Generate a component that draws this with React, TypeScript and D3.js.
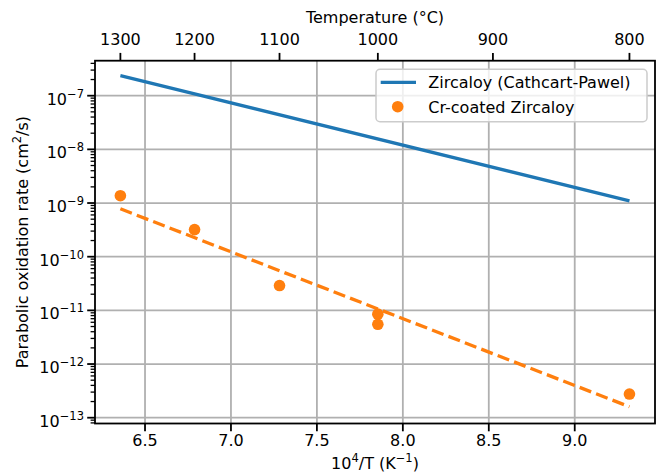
import React from 'react';
import * as d3 from 'd3';

// measured points (Cr-coated), temperature in degC and rate in cm^2/s
const coatedTempC = [1300, 1200, 1100, 1000, 1000, 800];
const coatedRate = [1.37e-9, 3.2e-10, 2.9e-11, 8.5e-12, 5.5e-12, 2.76e-13];

// Cathcart-Pawel correlation, read at the two ends
const cpTempC = [1300, 800];
const cpRate = [2.36e-7, 1.1e-9];

// dashed fit through the coated data
const fitTempC = [1300, 800];
const fitRate = [7.8e-10, 1.6e-13];

const xTicks = [6.5, 7.0, 7.5, 8.0, 8.5, 9.0];
const topTicksC = [1300, 1200, 1100, 1000, 900, 800];
const yDecades = [-13, -12, -11, -10, -9, -8, -7];

const xLim: [number, number] = [6.209, 9.467];
const yLim: [number, number] = [Math.pow(10, -13.108), Math.pow(10, -6.348)];

const invT = (c: number) => 10000 / (c + 273.15);

const App: React.FC = () => {
    const width = 656, height = 474;
    const left = 95, right = 655, top = 60.7, bottom = 423.5;
    const font = 'DejaVu Sans, sans-serif';
    const fs = 16;

    const x = d3.scaleLinear().domain(xLim).range([left, right]);
    const y = d3.scaleLog().domain(yLim).range([bottom, top]);

    const line = d3.line<[number, number]>()
        .x(d => x(d[0]))
        .y(d => y(d[1]));

    const cpData = cpTempC.map((t, i) => [invT(t), cpRate[i]] as [number, number]);
    const fitData = fitTempC.map((t, i) => [invT(t), fitRate[i]] as [number, number]);
    const pts = coatedTempC.map((t, i) => [invT(t), coatedRate[i]] as [number, number]);

    const minor: number[] = [];
    for (let e = -14; e <= -6; e++) {
        for (let m = 2; m <= 9; m++) {
            const v = m * Math.pow(10, e);
            if (v >= yLim[0] && v <= yLim[1]) minor.push(v);
        }
    }

    const grid = '#b0b0b0';

    return (
        <svg width={width} height={height} style={{ position: 'absolute', left: 0, top: 0 }}
            fontFamily={font} fontSize={fs} fill="#000">
            <rect x={0} y={0} width={width} height={height} fill="#fff" />

            {/* grid */}
            <g stroke={grid} strokeWidth={1.8}>
                {xTicks.map(t => <line key={'gx' + t} x1={x(t)} x2={x(t)} y1={top} y2={bottom} />)}
                {yDecades.map(e => <line key={'gy' + e} x1={left} x2={right} y1={y(Math.pow(10, e))} y2={y(Math.pow(10, e))} />)}
            </g>

            {/* series */}
            <path d={line(cpData) || ''} fill="none" stroke="#1f77b4" strokeWidth={3.3} />
            <path d={line(fitData) || ''} fill="none" stroke="#ff7f0e" strokeWidth={3.3} strokeDasharray="12.3,5.3" />
            <g fill="#ff7f0e">
                {pts.map((d, i) => <circle key={i} cx={x(d[0])} cy={y(d[1])} r={5.8} />)}
            </g>

            {/* frame */}
            <rect x={left} y={top} width={right - left} height={bottom - top} fill="none" stroke="#000" strokeWidth={1.8} />

            {/* bottom axis */}
            <g stroke="#000" strokeWidth={1.8}>
                {xTicks.map(t => <line key={'bt' + t} x1={x(t)} x2={x(t)} y1={bottom} y2={bottom + 7.8} />)}
            </g>
            {xTicks.map(t => (
                <text key={'bl' + t} x={x(t)} y={bottom + 22.5} textAnchor="middle">{t.toFixed(1)}</text>
            ))}
            <text x={(left + right) / 2} y={469} textAnchor="middle">
                <tspan>10</tspan>
                <tspan dy={-7} fontSize={11.5}>4</tspan>
                <tspan dy={7}>/T (K</tspan>
                <tspan dy={-7} fontSize={11.5}>−1</tspan>
                <tspan dy={7}>)</tspan>
            </text>

            {/* top axis (temperature) */}
            <g stroke="#000" strokeWidth={1.8}>
                {topTicksC.map(t => <line key={'tt' + t} x1={x(invT(t))} x2={x(invT(t))} y1={top} y2={top - 7.8} />)}
            </g>
            {topTicksC.map(t => (
                <text key={'tl' + t} x={x(invT(t))} y={45} textAnchor="middle">{t}</text>
            ))}
            <text x={(left + right) / 2} y={23} textAnchor="middle">Temperature (°C)</text>

            {/* left axis */}
            <g stroke="#000">
                {yDecades.map(e => (
                    <line key={'yt' + e} x1={left} x2={left - 7.8} y1={y(Math.pow(10, e))} y2={y(Math.pow(10, e))} strokeWidth={1.8} />
                ))}
                {minor.map((v, i) => (
                    <line key={'ym' + i} x1={left} x2={left - 4.4} y1={y(v)} y2={y(v)} strokeWidth={1.3} />
                ))}
            </g>
            {yDecades.map(e => (
                <text key={'yl' + e} x={84} y={y(Math.pow(10, e)) + 9} textAnchor="end">
                    <tspan>10</tspan>
                    <tspan dy={-7} fontSize={11.5}>{'−' + Math.abs(e)}</tspan>
                </text>
            ))}
            <text transform={`translate(28,${(top + bottom) / 2}) rotate(-90)`} textAnchor="middle">
                <tspan>Parabolic oxidation rate (cm</tspan>
                <tspan dy={-7} fontSize={11.5}>2</tspan>
                <tspan dy={7}>/s)</tspan>
            </text>

            {/* legend */}
            <g>
                <rect x={376} y={69.3} width={271} height={52.4} rx={4} fill="#fff" fillOpacity={0.8} stroke="#cccccc" strokeWidth={1.5} />
                <line x1={380.7} x2={416} y1={82.3} y2={82.3} stroke="#1f77b4" strokeWidth={3.3} />
                <text x={428.3} y={88}>Zircaloy (Cathcart-Pawel)</text>
                <circle cx={397.7} cy={106.7} r={5.8} fill="#ff7f0e" />
                <text x={428.3} y={112.5}>Cr-coated Zircaloy</text>
            </g>
        </svg>
    );
};

export default App;
